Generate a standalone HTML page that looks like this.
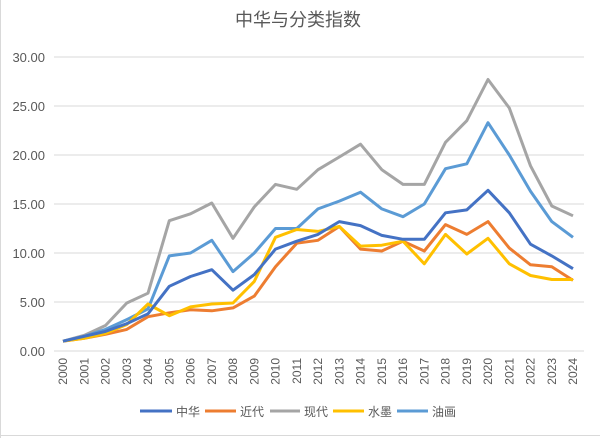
<!DOCTYPE html>
<html><head><meta charset="utf-8"><style>
html,body{margin:0;padding:0;background:#fff;}
svg text{font-family:"Liberation Sans","Noto Sans CJK SC",sans-serif;}
</style></head><body>
<svg id="c" width="600" height="438" xmlns="http://www.w3.org/2000/svg">
<rect x="0" y="0" width="600" height="438" fill="#fff"/>
<line x1="0.5" y1="0" x2="0.5" y2="438" stroke="#d9d9d9"/>
<line x1="0" y1="435.5" x2="600" y2="435.5" stroke="#d9d9d9"/>
<text x="298" y="26" font-size="18" fill="#595959" text-anchor="middle">中华与分类指数</text>
<g id="grid"></g><g id="lines"></g><g id="xl"></g>
<g font-size="12" fill="#595959">
<line x1="140" y1="411" x2="172" y2="411" stroke="#4472C4" stroke-width="3"/><text x="176" y="416">中华</text>
<line x1="205" y1="411" x2="236" y2="411" stroke="#ED7D31" stroke-width="3"/><text x="240" y="416">近代</text>
<line x1="270" y1="411" x2="300" y2="411" stroke="#A5A5A5" stroke-width="3"/><text x="304" y="416">现代</text>
<line x1="333" y1="411" x2="364" y2="411" stroke="#FFC000" stroke-width="3"/><text x="368" y="416">水墨</text>
<line x1="397" y1="411" x2="428" y2="411" stroke="#5B9BD5" stroke-width="3"/><text x="432" y="416">油画</text>
</g>
</svg>
<script>
var ns="http://www.w3.org/2000/svg";
function el(t,a,p,tx){var e=document.createElementNS(ns,t);for(var k in a)e.setAttribute(k,a[k]);if(tx)e.textContent=tx;document.getElementById(p).appendChild(e);}
function Y(v){return 351-v*9.8;}
function X(i){return 63+i*21.25;}
for(var v=0;v<=30;v+=5){el('line',{x1:54,x2:584,y1:Y(v),y2:Y(v),stroke:'#d9d9d9','stroke-width':1},'grid');
el('text',{x:45,y:Y(v)+5,'font-size':13,fill:'#595959','text-anchor':'end'},'grid',v.toFixed(2));}
var S=[
['#A5A5A5',[1.0,1.6,2.6,4.9,5.9,13.3,14.0,15.1,11.5,14.7,17.0,16.5,18.5,19.8,21.1,18.5,17.0,17.0,21.3,23.5,27.7,24.8,18.9,14.8,13.8]],
['#5B9BD5',[1.0,1.5,2.2,3.2,4.3,9.7,10.0,11.3,8.1,10.0,12.5,12.5,14.5,15.3,16.2,14.5,13.7,15.0,18.6,19.1,23.3,20.0,16.3,13.2,11.6]],
['#ED7D31',[1.0,1.3,1.7,2.2,3.5,3.9,4.2,4.1,4.4,5.6,8.6,11.0,11.3,12.7,10.4,10.2,11.2,10.2,12.9,11.9,13.2,10.5,8.8,8.6,7.2]],
['#FFC000',[1.0,1.3,1.8,2.7,4.8,3.6,4.5,4.8,4.9,7.1,11.6,12.4,12.2,12.7,10.7,10.8,11.2,8.9,11.9,9.9,11.5,8.9,7.7,7.3,7.3]],
['#4472C4',[1.0,1.5,2.0,2.8,3.8,6.6,7.6,8.3,6.2,7.8,10.4,11.2,11.9,13.2,12.8,11.8,11.4,11.4,14.1,14.4,16.4,14.1,10.9,9.7,8.4]]
];
S.forEach(function(s){var p=s[1].map(function(v,i){return X(i).toFixed(1)+','+Y(v).toFixed(1)}).join(' ');
el('polyline',{points:p,fill:'none',stroke:s[0],'stroke-width':3,'stroke-linejoin':'round'},'lines');});
for(var i=0;i<25;i++){var x=X(i)+4;el('text',{x:x,y:358,'font-size':12,fill:'#595959','text-anchor':'end',transform:'rotate(-90 '+x+' 358)'},'xl',String(2000+i));}
</script>
</body></html>
